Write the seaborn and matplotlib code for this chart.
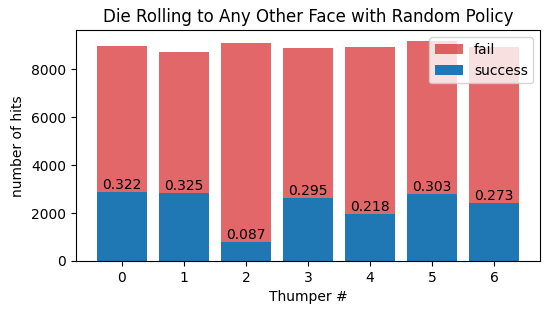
import matplotlib
matplotlib.use('Agg')
import matplotlib.pyplot as plt
import seaborn as sns

# hits per thumper
thumpers = [0, 1, 2, 3, 4, 5, 6]
total_hits = [9000, 8720, 9090, 8880, 8920, 9170, 8920]
success_hits = [2898, 2834, 791, 2620, 1945, 2779, 2435]

fig, ax = plt.subplots(figsize=(5.49, 3.14), dpi=100)

sns.barplot(x=thumpers, y=total_hits, color='tab:red', alpha=0.7,
            saturation=1, label='fail', ax=ax)
sns.barplot(x=thumpers, y=success_hits, color='tab:blue',
            saturation=1, label='success', ax=ax)

# success rate above each blue bar
for i, (s, t) in enumerate(zip(success_hits, total_hits)):
    ax.text(i, s, f'{s / t:.3f}', ha='center', va='bottom', fontsize=10)

# plain matplotlib-like margins
ax.set_xlim(-0.74, len(thumpers) - 1 + 0.74)
ax.set_ylim(0, max(total_hits) * 1.05)

ax.set_title('Die Rolling to Any Other Face with Random Policy')
ax.set_xlabel('Thumper #')
ax.set_ylabel('number of hits')
ax.legend(loc='upper right')

plt.subplots_adjust(left=0.138, right=0.984, top=0.903, bottom=0.169)
plt.savefig('out.png')
